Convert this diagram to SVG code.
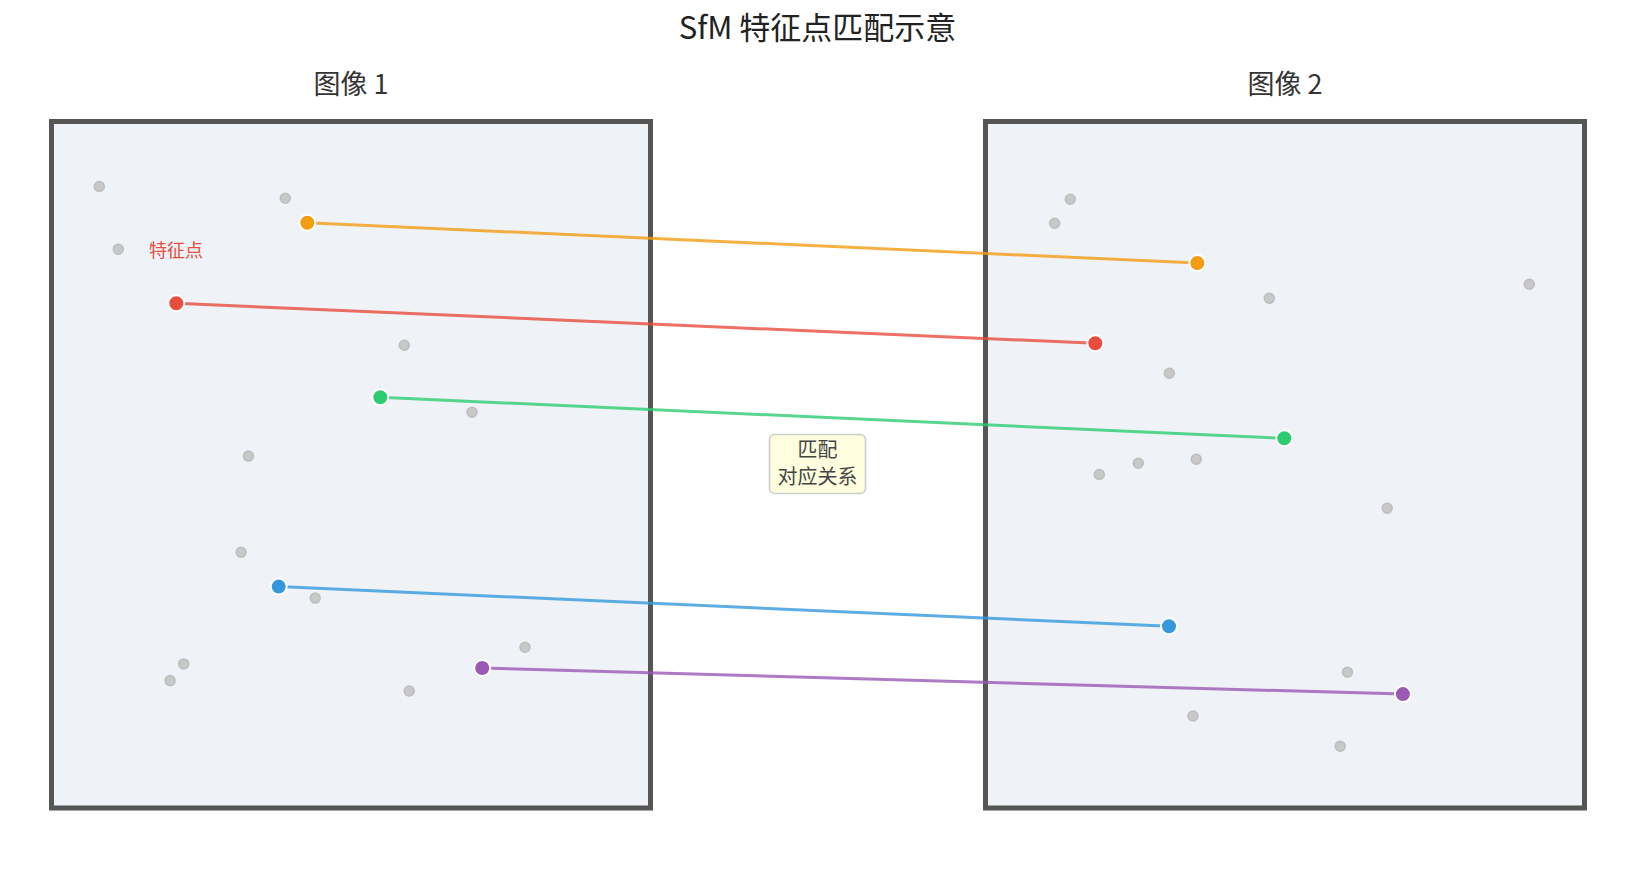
<svg xmlns="http://www.w3.org/2000/svg" width="1635" height="884" viewBox="0 0 1635 884">
<style>
text{font-family:"Noto Sans CJK SC","Noto Sans",sans-serif}
.title{font-size:31px;fill:#222;text-anchor:middle}
.sub{font-size:27px;fill:#333;text-anchor:middle}
.img{fill:#eff3f8;stroke:#555;stroke-width:5}
.g{fill:#c8c8c8;stroke:#bdbdbd;stroke-width:1.5}
.kp{stroke:#fff;stroke-width:2}
.ln{stroke-width:3;fill:none;opacity:0.8}
.lbl{font-size:20px;fill:#444;text-anchor:middle}
</style>
<rect width="1635" height="884" fill="#fff"/>
<text class="title" x="817.5" y="39">SfM 特征点匹配示意</text>
<g id="image1">
<text class="sub" x="351" y="94">图像 1</text>
<rect class="img" x="51.5" y="121.5" width="599" height="686.5"/>
<g id="image1-points">
<circle class="g" cx="99.3" cy="186.5" r="5"/>
<circle class="g" cx="285.3" cy="198.3" r="5"/>
<circle class="g" cx="118.3" cy="249.3" r="5"/>
<circle class="g" cx="404.3" cy="345.3" r="5"/>
<circle class="g" cx="472" cy="412.3" r="5"/>
<circle class="g" cx="248.4" cy="456.1" r="5"/>
<circle class="g" cx="241.1" cy="552.2" r="5"/>
<circle class="g" cx="315.2" cy="598.1" r="5"/>
<circle class="g" cx="183.7" cy="663.9" r="5"/>
<circle class="g" cx="170.1" cy="680.6" r="5"/>
<circle class="g" cx="409.2" cy="691" r="5"/>
<circle class="g" cx="525" cy="647.2" r="5"/>
</g>
<text x="149" y="257" font-size="18" fill="#e74c3c">特征点</text>
</g>
<g id="image2">
<text class="sub" x="1285" y="94">图像 2</text>
<rect class="img" x="985.5" y="121.5" width="599" height="686.5"/>
<g id="image2-points">
<circle class="g" cx="1070.3" cy="199.3" r="5"/>
<circle class="g" cx="1054.7" cy="223.3" r="5"/>
<circle class="g" cx="1269.3" cy="298.3" r="5"/>
<circle class="g" cx="1529.3" cy="284.3" r="5"/>
<circle class="g" cx="1169.3" cy="373.3" r="5"/>
<circle class="g" cx="1138.3" cy="463.3" r="5"/>
<circle class="g" cx="1196.3" cy="459.3" r="5"/>
<circle class="g" cx="1099.3" cy="474.5" r="5"/>
<circle class="g" cx="1387.2" cy="508.3" r="5"/>
<circle class="g" cx="1347.5" cy="672.2" r="5"/>
<circle class="g" cx="1193" cy="716" r="5"/>
<circle class="g" cx="1340.2" cy="746.3" r="5"/>
</g>
</g>
<g id="connectors">
<line class="ln" x1="307.3" y1="222.7" x2="1197.3" y2="263" stroke="#f39c12"/>
<line class="ln" x1="176.3" y1="303.3" x2="1095.3" y2="343.3" stroke="#e74c3c"/>
<line class="ln" x1="380.3" y1="397.3" x2="1284.3" y2="438.3" stroke="#2ecc71"/>
<line class="ln" x1="278.7" y1="586.6" x2="1169" y2="626.3" stroke="#3498db"/>
<line class="ln" x1="482.2" y1="668" x2="1402.9" y2="694.1" stroke="#9b59b6"/>
</g>
<g id="matches">
<circle class="kp" cx="307.3" cy="222.7" r="8" fill="#f39c12"/>
<circle class="kp" cx="1197.3" cy="263" r="8" fill="#f39c12"/>
<circle class="kp" cx="176.3" cy="303.3" r="8" fill="#e74c3c"/>
<circle class="kp" cx="1095.3" cy="343.3" r="8" fill="#e74c3c"/>
<circle class="kp" cx="380.3" cy="397.3" r="8" fill="#2ecc71"/>
<circle class="kp" cx="1284.3" cy="438.3" r="8" fill="#2ecc71"/>
<circle class="kp" cx="278.7" cy="586.6" r="8" fill="#3498db"/>
<circle class="kp" cx="1169" cy="626.3" r="8" fill="#3498db"/>
<circle class="kp" cx="482.2" cy="668" r="8" fill="#9b59b6"/>
<circle class="kp" cx="1402.9" cy="694.1" r="8" fill="#9b59b6"/>
</g>
<g id="match-label">
<rect x="769.5" y="434.5" width="96" height="59" rx="5" fill="#ffffe0" stroke="#cccccc" stroke-width="1.5"/>
<text class="lbl" x="817.5" y="456.5">匹配</text>
<text class="lbl" x="817.5" y="484">对应关系</text>
</g>
</svg>
